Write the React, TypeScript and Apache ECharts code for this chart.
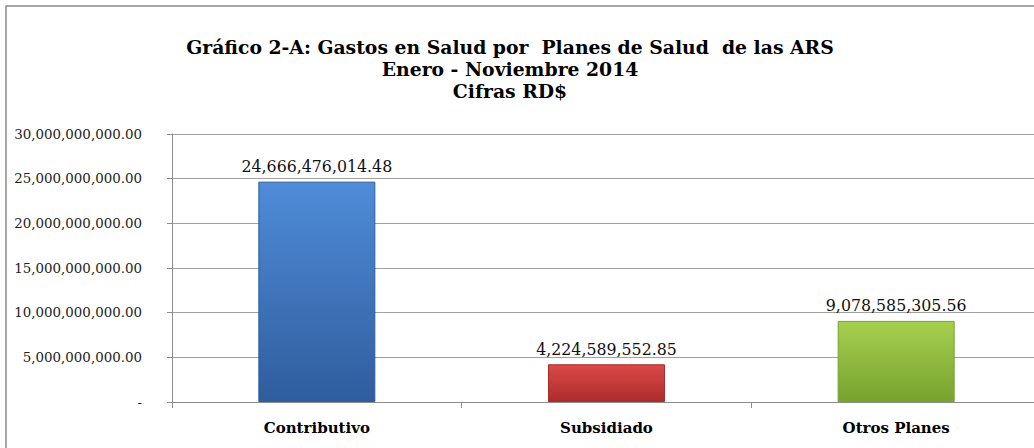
import React, { useEffect, useRef } from "react";
import * as echarts from "echarts";

const categories = ["Contributivo", "Subsidiado", "Otros Planes"];
const values = [24666476014.48, 4224589552.85, 9078585305.56];
const titleLines = [
  "Gráfico 2-A: Gastos en Salud por  Planes de Salud  de las ARS",
  "Enero - Noviembre 2014",
  "Cifras RD$",
];
const yMax = 30000000000;
const yInterval = 5000000000;

const barColors = [
  ["#4f8cd9", "#2f5d9d"],
  ["#dc4848", "#ab2c2c"],
  ["#a7d04f", "#76a22f"],
];

const fmt = (v: number) =>
  v === 0
    ? "-"
    : v.toLocaleString("en-US", { minimumFractionDigits: 2, maximumFractionDigits: 2 });

export default function App() {
  const ref = useRef<HTMLDivElement>(null);
  useEffect(() => {
    if (!ref.current) return;
    const chart = echarts.init(ref.current, undefined, { renderer: "svg" });
    const serif = "DejaVu Serif, serif";
    chart.setOption({
      animation: false,
      backgroundColor: "#ffffff",
      textStyle: { fontFamily: serif },
      title: {
        text: titleLines.join("\n"),
        left: 505,
        top: 31,
        textAlign: "center",
        textStyle: {
          fontFamily: serif,
          fontWeight: "bold",
          fontSize: 18.8,
          lineHeight: 22,
          color: "#000",
        },
      },
      graphic: [
        {
          type: "rect",
          shape: { x: 6, y: 6, width: 1100, height: 500 },
          style: { fill: "none", stroke: "#8c8c8c", lineWidth: 1.5 },
          silent: true,
        },
      ],
      grid: {
        left: 172,
        top: 134,
        width: 869,
        height: 268,
        containLabel: false,
        outerBoundsMode: "none",
      },
      xAxis: {
        type: "category",
        data: categories,
        axisLine: { lineStyle: { color: "#8c8c8c" } },
        axisTick: { show: true, length: 6, lineStyle: { color: "#8c8c8c" } },
        axisLabel: {
          fontFamily: serif,
          fontWeight: "bold",
          fontSize: 15,
          color: "#000",
          margin: 18,
        },
      },
      yAxis: {
        type: "value",
        min: 0,
        max: yMax,
        interval: yInterval,
        axisLine: { show: true, lineStyle: { color: "#8c8c8c" } },
        axisTick: { show: true, length: 5, lineStyle: { color: "#8c8c8c" } },
        splitLine: { lineStyle: { color: "#a0a0a0" } },
        axisLabel: {
          fontFamily: serif,
          fontSize: 13.4,
          color: "#222",
          margin: 30,
          formatter: (v: number) => fmt(v),
        },
      },
      series: [
        {
          type: "bar",
          barWidth: 117,
          data: values.map((v, i) => ({
            value: v,
            itemStyle: {
              color: new echarts.graphic.LinearGradient(0, 0, 0, 1, [
                { offset: 0, color: barColors[i][0] },
                { offset: 1, color: barColors[i][1] },
              ]),
              borderColor: barColors[i][1],
              borderWidth: 1,
            },
          })),
          label: {
            show: true,
            position: "top",
            distance: 7,
            fontFamily: serif,
            fontSize: 15.8,
            color: "#111",
            formatter: (p: any) => fmt(p.value),
          },
        },
      ],
    });
    return () => chart.dispose();
  }, []);
  return (
    <div
      style={{
        position: "absolute",
        left: 0,
        top: 0,
        width: 1034,
        height: 448,
        overflow: "hidden",
      }}
    >
      <div ref={ref} style={{ width: 1034, height: 448 }} />
    </div>
  );
}
